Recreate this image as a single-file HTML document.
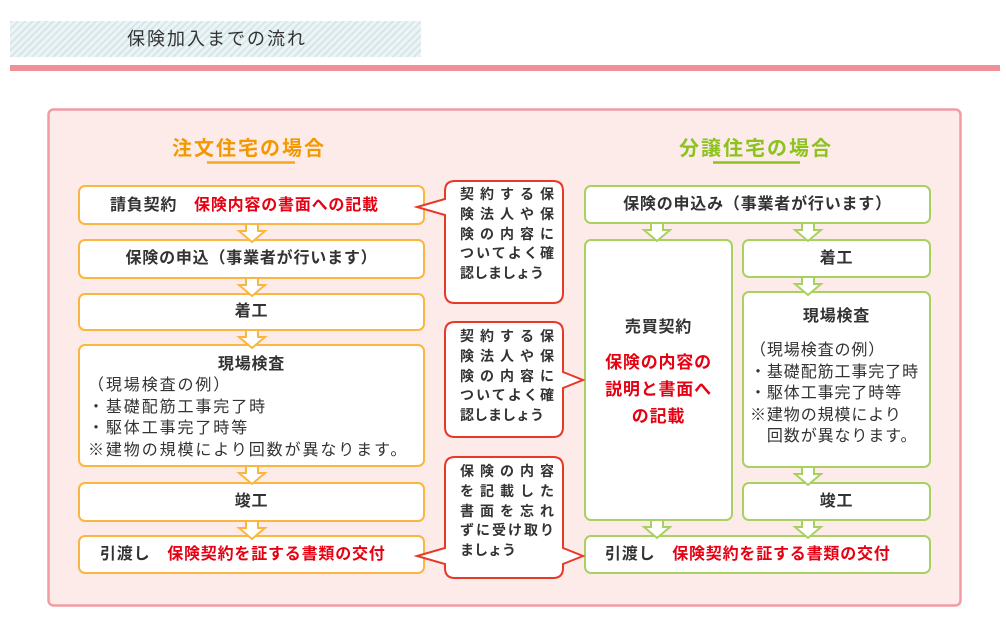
<!DOCTYPE html>
<html><head><meta charset="utf-8"><style>
*{margin:0;padding:0;box-sizing:border-box}
body{width:1006px;height:635px;background:#fff;position:relative;overflow:hidden;font-family:"Liberation Sans","Noto Sans CJK JP",sans-serif;color:#333}
.a{position:absolute;white-space:nowrap}
.b{font-weight:bold;font-size:16px;letter-spacing:0.8px;line-height:20px}
.r{color:#e60012}
.c{text-align:center}
.t{font-size:16px;letter-spacing:0.9px;line-height:21.5px}
.co{font-size:14px;font-weight:bold;line-height:19.8px;width:94px;text-align:justify;text-align-last:justify;color:#333}
</style></head><body>
<div class="a" style="left:10px;top:21px;width:411px;height:36px;background:repeating-linear-gradient(135deg,#d5e7ea 0 2px,#ecf4f5 2px 5px)"></div>
<div class="a" style="left:127px;top:28px;font-size:18px;letter-spacing:2px;line-height:22px;color:#333">保険加入までの流れ</div>
<div class="a" style="left:10px;top:65px;width:990px;height:6px;background:#ef8f96"></div>

<svg class="a" style="left:0;top:0" width="1006" height="635">
<rect x="48.5" y="109.5" width="912" height="496" rx="5" fill="#fcebe8" stroke="#f29ca2" stroke-width="2.5"/>
<line x1="207" y1="162.5" x2="295" y2="162.5" stroke="#f5a623" stroke-width="2.5"/>
<line x1="713" y1="162.5" x2="800" y2="162.5" stroke="#8dc21f" stroke-width="2.5"/>
<g fill="#fff" stroke="#fbb541" stroke-width="2">
<rect x="79" y="186" width="345" height="38" rx="6"/>
<rect x="79" y="240" width="345" height="38" rx="6"/>
<rect x="79" y="294" width="345" height="36" rx="6"/>
<rect x="79" y="345" width="345" height="121" rx="6"/>
<rect x="79" y="483" width="345" height="38" rx="6"/>
<rect x="79" y="536" width="345" height="37" rx="6"/>
</g>
<g fill="#fff" stroke="#a8d160" stroke-width="2">
<rect x="585" y="186" width="345" height="37" rx="6"/>
<rect x="585" y="240" width="147" height="280" rx="6"/>
<rect x="743" y="240" width="187" height="37" rx="6"/>
<rect x="743" y="292" width="187" height="175" rx="6"/>
<rect x="743" y="483" width="187" height="37" rx="6"/>
<rect x="585" y="536" width="345" height="37" rx="6"/>
</g>
<defs>
<path id="ar" d="M-6,0 H6 V7 H13 L0,18 L-13,7 H-6 Z"/>
</defs>
<g fill="#fff" stroke="#fbb541" stroke-width="2">
<use href="#ar" x="252" y="224"/>
<use href="#ar" x="252" y="278"/>
<use href="#ar" x="252" y="330"/>
<use href="#ar" x="252" y="466"/>
<use href="#ar" x="252" y="521"/>
</g>
<g fill="#fff" stroke="#a8d160" stroke-width="2">
<use href="#ar" x="657" y="223"/>
<use href="#ar" x="808" y="223"/>
<use href="#ar" x="808" y="277"/>
<use href="#ar" x="808" y="467"/>
<use href="#ar" x="657" y="520"/>
<use href="#ar" x="808" y="520"/>
</g>
<g fill="#fff" stroke="#e83828" stroke-width="2">
<path d="M455,181 H553 Q563,181 563,191 V293 Q563,303 553,303 H455 Q445,303 445,293 V215 L417,207 L445,199 V191 Q445,181 455,181 Z"/>
<path d="M455,322 H553 Q563,322 563,332 V372 L583,380 L563,388 V427 Q563,437 553,437 H455 Q445,437 445,427 V332 Q445,322 455,322 Z"/>
<path d="M455,457 H553 Q563,457 563,467 V548 L583,556 L563,564 V568 Q563,578 553,578 H455 Q445,578 445,568 V564 L417,556 L445,548 V467 Q445,457 455,457 Z"/>
</g>
</svg>

<div class="a" style="left:172px;top:132px;font-size:20px;letter-spacing:2px;font-weight:bold;color:#f39800">注文住宅の場合</div>
<div class="a" style="left:679px;top:132px;font-size:20px;letter-spacing:2px;font-weight:bold;color:#8dc21f">分譲住宅の場合</div>

<div class="a b" style="left:110px;top:196px">請負契約　<span class="r">保険内容の書面への記載</span></div>
<div class="a b c" style="left:79px;width:345px;top:249px">保険の申込（事業者が行います）</div>
<div class="a b c" style="left:79px;width:345px;top:302px">着工</div>
<div class="a b c" style="left:79px;width:345px;top:355px">現場検査</div>
<div class="a t" style="left:88px;top:375px;letter-spacing:1.9px">（現場検査の例）<br>・基礎配筋工事完了時<br>・駆体工事完了時等<br>※建物の規模により回数が異なります。</div>
<div class="a b c" style="left:79px;width:345px;top:492px">竣工</div>
<div class="a b" style="left:100px;top:545px">引渡し　<span class="r">保険契約を証する書類の交付</span></div>

<div class="a co" style="left:460px;top:185px">契約する保<br>険法人や保<br>険の内容に<br>ついてよく確<br><span style="display:inline-block;text-align-last:left;letter-spacing:0">認しましょう</span></div>
<div class="a co" style="left:460px;top:327px">契約する保<br>険法人や保<br>険の内容に<br>ついてよく確<br><span style="display:inline-block;text-align-last:left;letter-spacing:0">認しましょう</span></div>
<div class="a co" style="left:460px;top:462px">保険の内容<br>を記載した<br>書面を忘れ<br>ずに受け取り<br><span style="display:inline-block;text-align-last:left;letter-spacing:0">ましょう</span></div>

<div class="a b c" style="left:585px;width:345px;top:195px">保険の申込み（事業者が行います）</div>
<div class="a b c" style="left:585px;width:147px;top:318px">売買契約</div>
<div class="a b c r" style="left:585px;width:147px;top:349px;line-height:27px;font-size:17px">保険の内容の<br>説明と書面へ<br>の記載</div>
<div class="a b c" style="left:743px;width:187px;top:249px">着工</div>
<div class="a b c" style="left:743px;width:187px;top:307px">現場検査</div>
<div class="a t" style="left:750px;top:340px">（現場検査の例）<br>・基礎配筋工事完了時<br>・駆体工事完了時等<br>※建物の規模により<br>　回数が異なります。</div>
<div class="a b c" style="left:743px;width:187px;top:492px">竣工</div>
<div class="a b" style="left:605px;top:545px">引渡し　<span class="r">保険契約を証する書類の交付</span></div>
</body></html>
